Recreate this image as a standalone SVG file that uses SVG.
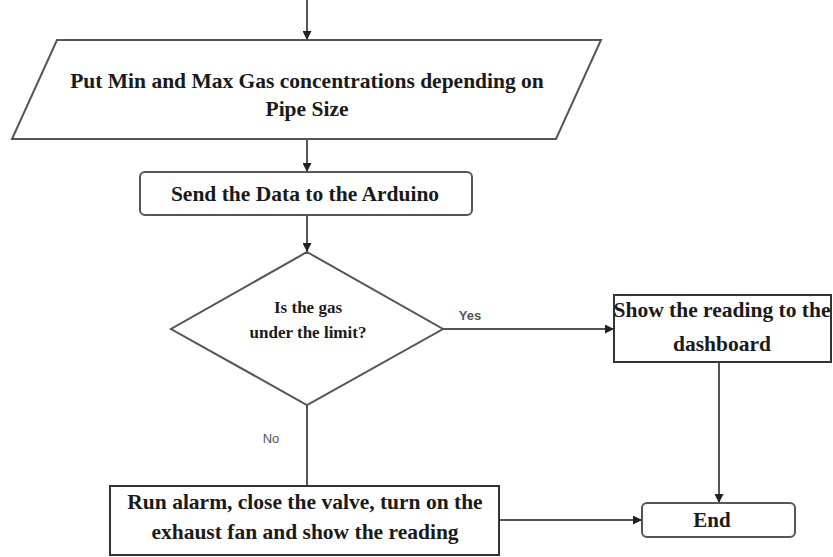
<svg xmlns="http://www.w3.org/2000/svg" width="833" height="557" viewBox="0 0 833 557">
  <defs>
    <marker id="arrow" viewBox="0 0 10 10" refX="10" refY="5" markerWidth="9" markerHeight="9" markerUnits="userSpaceOnUse" orient="auto">
      <path d="M0,0 L10,5 L0,10 z" fill="#222"/>
    </marker>
    <style>
      .shape { fill: #fff; stroke: #555; stroke-width: 2; }
      .box { fill: #fff; stroke: #333; stroke-width: 2; }
      .link { fill: none; stroke: #555; stroke-width: 2; }
      .label { font-family: "Liberation Serif", "Times New Roman", serif; font-weight: bold; font-size: 21.5px; fill: #1a1a1a; text-anchor: middle; }
      .q { font-family: "Liberation Serif", serif; font-weight: bold; font-size: 17px; fill: #1a1a1a; text-anchor: middle; }
      .branch { font-family: "Liberation Sans", Arial, sans-serif; font-size: 13px; fill: #555; text-anchor: middle; }
    </style>
  </defs>
  <rect width="833" height="557" fill="#fff"/>

  <!-- connectors -->
  <g id="connectors">
    <line class="link" x1="307" y1="0" x2="307" y2="40" marker-end="url(#arrow)"/>
    <line class="link" x1="307" y1="140" x2="307" y2="172" marker-end="url(#arrow)"/>
    <line class="link" x1="307" y1="215" x2="307" y2="252" marker-end="url(#arrow)"/>
    <line class="link" x1="443" y1="329" x2="614" y2="329" marker-end="url(#arrow)"/>
    <line class="link" x1="307" y1="405" x2="307" y2="486"/>
    <line class="link" x1="719" y1="362" x2="719" y2="503" marker-end="url(#arrow)"/>
    <line class="link" x1="499" y1="520" x2="642" y2="520" marker-end="url(#arrow)"/>
    <text class="branch" x="470" y="320" font-weight="bold">Yes</text>
    <text class="branch" x="271" y="443">No</text>
  </g>

  <!-- input: gas limits -->
  <g id="input-limits">
    <polygon class="shape" points="57,40 601,40 556,139 12,139"/>
    <text class="label" x="307" y="88">Put Min and Max Gas concentrations depending on</text>
    <text class="label" x="307" y="116">Pipe Size</text>
  </g>

  <!-- send data -->
  <g id="send-data">
    <rect class="shape" x="140" y="172" width="332" height="43" rx="5"/>
    <text class="label" x="305" y="201">Send the Data to the Arduino</text>
  </g>

  <!-- decision -->
  <g id="decision">
    <polygon class="shape" points="307,252 443,329 307,405 171,329"/>
    <text class="q" x="308" y="313">Is the gas</text>
    <text class="q" x="308" y="338">under the limit?</text>
  </g>

  <!-- show reading -->
  <g id="show-reading">
    <rect class="box" x="614" y="295" width="217" height="67"/>
    <text class="label" x="722" y="317">Show the reading to the</text>
    <text class="label" x="722" y="351">dashboard</text>
  </g>

  <!-- alarm actions -->
  <g id="alarm">
    <rect class="box" x="110" y="486" width="389" height="69"/>
    <text class="label" x="305" y="509">Run alarm, close the valve, turn on the</text>
    <text class="label" x="305" y="539">exhaust fan and show the reading</text>
  </g>

  <!-- end -->
  <g id="end">
    <rect class="shape" x="642" y="503" width="153" height="34" rx="5"/>
    <text class="label" x="712" y="527" style="font-size:21px">End</text>
  </g>
</svg>
